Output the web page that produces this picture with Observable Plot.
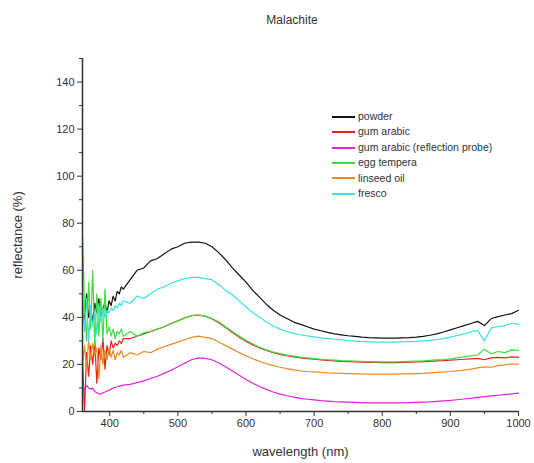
<!DOCTYPE html>
<html>
<head>
<meta charset="utf-8">
<script src="https://cdn.jsdelivr.net/npm/d3@7"></script>
<script src="https://cdn.jsdelivr.net/npm/@observablehq/plot@0.6"></script>
<style>
  html, body { margin: 0; padding: 0; background: #fff; }
  #wrap { position: relative; width: 534px; height: 463px; font-family: "Liberation Sans", Arial, sans-serif; color: #333; }
  #title { position: absolute; left: 0; width: 584px; top: 13px; text-align: center; font-size: 12px; }
  #legend { position: absolute; left: 332px; top: 109px; font-size: 10.5px; line-height: 15.4px; }
  .item { display: flex; align-items: center; white-space: nowrap; }
  .sw { display: inline-block; width: 23px; height: 2px; margin-right: 3px; }
  #chart { position: absolute; left: 0; top: 0; }
</style>
</head>
<body>
<div id="wrap">
  <div id="chart"></div>
  <div id="title">Malachite</div>
  <div id="legend"></div>
</div>
<script>
const wavelength = [360,363,366,369,372,375,378,381,384,387,390,393,396,399,402,405,408,411,414,417,420,
  430,440,450,460,470,480,490,500,510,520,530,540,550,560,570,580,590,600,610,620,630,640,650,660,670,680,690,700,
  710,720,730,740,750,760,770,780,790,800,810,820,830,840,850,860,870,880,890,900,910,920,930,940,950,960,970,980,990,1000];

const powder = [45,38,50,40,44,38,46,42,48,39,44,46,42,47,45,49,47,51,50,53,52,
  56,60,61,64,65,67,69,70,71.5,72,72,71.5,70,67.5,64.5,61,58,55,51.5,48.5,45.5,43,41,39.5,38,37,36,35,
  34.3,33.6,33,32.6,32.2,31.9,31.6,31.4,31.3,31.2,31.2,31.2,31.3,31.4,31.6,31.9,32.4,33,33.8,34.7,35.6,36.5,37.4,38.3,36.5,39.5,40.3,41,41.6,43];

const gumArabic = [22,0,25,15,28,20,30,12,27,22,31,18,28,24,30,27,29,28,30,29,31,
  31,32,33,34,35,36,37.4,38.5,39.8,40.7,41,40.5,39.3,37.7,35.7,33.6,31.6,29.9,28.3,27,25.9,25,24.3,23.7,23.2,22.8,22.5,22.2,
  21.9,21.7,21.5,21.3,21.2,21.1,21,20.9,20.9,20.8,20.8,20.8,20.9,21,21.1,21.2,21.3,21.5,21.6,21.8,22,22.2,22.4,22.6,22,22.8,23,22.8,23.2,23];

const gumArabicProbe = [12,9,11,10,9.5,10,8.5,8,7.5,7.5,8,8.3,8.7,9,9.5,10,10.3,10.5,10.8,11,11.2,
  11.5,12.3,13,14,15,16.2,17.5,19,20.5,22,22.8,22.6,22,20.6,19,17.2,15.4,13.6,12,10.6,9.4,8.3,7.4,6.7,6.1,5.6,5.2,4.9,
  4.6,4.4,4.2,4.1,4,3.9,3.8,3.7,3.7,3.7,3.7,3.7,3.7,3.8,3.9,4,4.1,4.3,4.5,4.7,5,5.3,5.6,6,6.3,6.6,6.9,7.2,7.5,7.8];

const eggTempera = [75,45,30,55,35,60,28,50,32,48,30,52,33,36,32,35,31,34,33,35,32,
  34,32,33.5,34,35,36,37.4,38.5,39.8,40.7,41,40.5,39.5,38,36,34,32,30.3,28.7,27.3,26.2,25.3,24.6,24,23.5,23.1,22.8,22.5,
  22.2,22,21.8,21.6,21.5,21.4,21.3,21.2,21.1,21.1,21.1,21.1,21.2,21.3,21.4,21.5,21.7,21.9,22.1,22.4,22.8,23.2,23.6,24,26.5,24.5,25.5,25,26.2,26];

const linseedOil = [20,28,18,30,22,29,24,27,14,28,20,26,22,27,23,26,22,25,24,26,23,
  25,24,25.5,25,26.5,27.5,28.5,29.5,30.5,31.5,32,31.5,31,29.5,28,26.5,25,23.7,22.4,21.3,20.3,19.5,18.8,18.2,17.7,17.3,17,16.8,
  16.6,16.4,16.3,16.2,16.1,16,16,15.9,15.9,15.9,15.9,15.9,16,16,16.1,16.2,16.4,16.6,16.8,17,17.3,17.6,18,18.5,19,18.8,19.5,19.8,20.3,20];

const fresco = [50,34,48,30,45,36,42,33,46,38,44,40,43,42,44,43,45,44,46,45,47,
  46,49,48,50,52,53,54.5,55.5,56.5,57,57,56.5,56,54,51.5,49.5,47,44.5,42,40,38,36.3,35,34,33.2,32.6,32.1,31.7,
  31.3,31,30.7,30.4,30.1,29.9,29.7,29.6,29.5,29.5,29.5,29.5,29.6,29.7,29.8,30,30.2,30.6,31,31.6,32.3,33,33.8,34.5,30,35.5,36,36.5,37.5,37];

const seriesNames = ["powder", "gum arabic", "gum arabic (reflection probe)", "egg tempera", "linseed oil", "fresco"];
const seriesValues = [powder, gumArabic, gumArabicProbe, eggTempera, linseedOil, fresco];
const seriesColors = ["#111111", "#e8231f", "#de22de", "#3ddf3d", "#ee8a1e", "#38e2e2"];

const xMajor = [400, 500, 600, 700, 800, 900, 1000];
const xMinor = [450, 550, 650, 750, 850, 950];
const yMajor = [0, 20, 40, 60, 80, 100, 120, 140];
const yMinor = [10, 30, 50, 70, 90, 110, 130, 150];

const data = [];
seriesNames.forEach((name, i) => {
  seriesValues[i].forEach((v, j) => data.push({series: name, wl: wavelength[j], v}));
});

const axisColor = "#333";
const chart = Plot.plot({
  width: 534,
  height: 463,
  marginTop: 58,
  marginLeft: 82,
  marginRight: 16,
  marginBottom: 52,
  style: {fontFamily: "Liberation Sans, Arial, sans-serif", fontSize: "11px", color: axisColor, background: "transparent"},
  x: {domain: [360, 1000]},
  y: {domain: [0, 150]},
  color: {domain: seriesNames, range: seriesColors},
  marks: [
    Plot.line(data, {x: "wl", y: "v", z: "series", stroke: "series", strokeWidth: 1.2}),
    Plot.axisX({ticks: xMajor, tickSize: 5, tickPadding: 3, tickFormat: d => String(d), stroke: axisColor, fill: axisColor, label: "wavelength (nm)", labelAnchor: "center", labelArrow: "none", labelOffset: 44, fontSize: 11}),
    Plot.axisX({ticks: xMinor, tickSize: 3, tickFormat: () => "", stroke: axisColor, label: null}),
    Plot.axisY({ticks: yMajor, tickSize: 5, tickPadding: 3, tickFormat: d => String(d), stroke: axisColor, fill: axisColor, label: "reflectance (%)", labelAnchor: "center", labelArrow: "none", labelOffset: 70, fontSize: 11}),
    Plot.axisY({ticks: yMinor, tickSize: 3, tickFormat: () => "", stroke: axisColor, label: null}),
    Plot.ruleX([360], {stroke: axisColor, strokeWidth: 1.5}),
    Plot.ruleY([0], {stroke: axisColor, strokeWidth: 1.5})
  ]
});
chart.querySelectorAll("g[aria-label='x-axis label'] text, g[aria-label='y-axis label'] text").forEach(t => t.setAttribute("font-size", "13"));
document.getElementById("chart").appendChild(chart);

const legend = document.getElementById("legend");
seriesNames.forEach((name, i) => {
  const item = document.createElement("div");
  item.className = "item";
  const sw = document.createElement("span");
  sw.className = "sw";
  sw.style.background = seriesColors[i];
  const label = document.createElement("span");
  label.textContent = name;
  item.appendChild(sw);
  item.appendChild(label);
  legend.appendChild(item);
});
</script>
</body>
</html>
